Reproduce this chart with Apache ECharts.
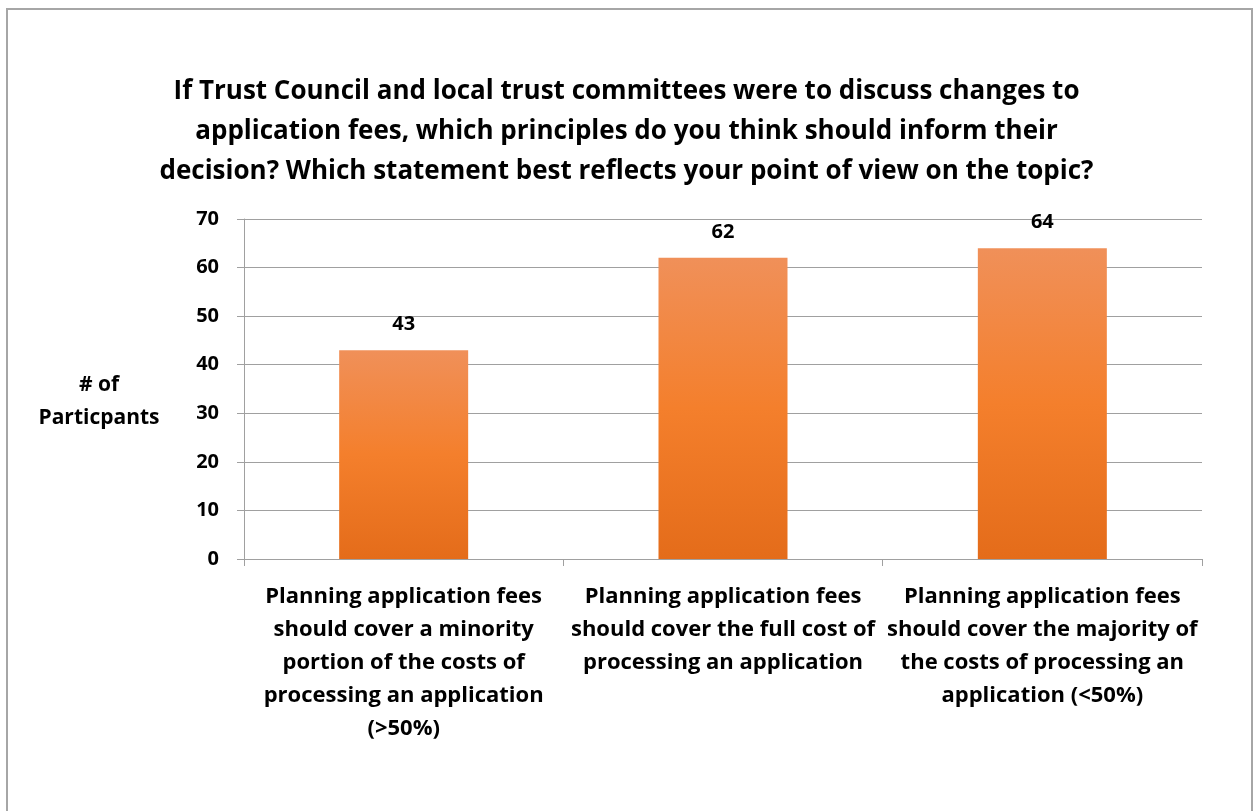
<!DOCTYPE html>
<html>
<head>
<meta charset="utf-8">
<style>
    html, body { margin: 0; padding: 0; background: #fff; }
    #chart { width: 1253px; height: 811px; }
</style>
<script src="https://cdn.jsdelivr.net/npm/echarts@6/dist/echarts.min.js"></script>
</head>
<body>
<div id="chart"></div>
<script>
var titleText = 'If Trust Council and local trust committees were to discuss changes to\napplication fees, which principles do you think should inform their\ndecision? Which statement best reflects your point of view on the topic?';
var yName = '# of\nParticpants';

var categories = [
    'Planning application fees\nshould cover a minority\nportion of the costs of\nprocessing an application\n(>50%)',
    'Planning application fees\nshould cover the full cost of\nprocessing an application',
    'Planning application fees\nshould cover the majority of\nthe costs of processing an\napplication (<50%)'
];
var participants = [43, 62, 64];
var yTicks = [0, 10, 20, 30, 40, 50, 60, 70];

var fontFamily = '"Open Sans", Lato, sans-serif';

var chart = echarts.init(document.getElementById('chart'));

var option = {
    backgroundColor: '#ffffff',
    animation: false,
    title: {
        text: titleText,
        left: 'center',
        top: 67,
        textStyle: {
            fontFamily: fontFamily,
            fontWeight: 'bold',
            fontSize: 26,
            lineHeight: 40,
            color: '#000'
        }
    },
    graphic: [{
        type: 'rect',
        shape: {x: 7, y: 9, width: 1245, height: 830},
        style: {fill: 'none', stroke: '#a6a6a6', lineWidth: 2},
        silent: true
    }, {
        // y axis title, sits a bit below the plot's middle as in the original
        type: 'text',
        x: 99,
        y: 402,
        style: {
            text: yName,
            fontFamily: fontFamily,
            fontWeight: 'bold',
            fontSize: 21,
            lineHeight: 33,
            fill: '#000',
            align: 'center',
            verticalAlign: 'middle'
        },
        silent: true
    }],
    grid: {
        left: 244,
        right: 51,
        top: 219,
        bottom: 252
    },
    xAxis: {
        type: 'category',
        data: categories,
        axisLine: {lineStyle: {color: '#a0a0a0', width: 1}},
        axisTick: {show: true, length: 7, lineStyle: {color: '#a0a0a0'}},
        axisLabel: {
            interval: 0,
            margin: 21,
            fontFamily: fontFamily,
            fontWeight: 'bold',
            fontSize: 22,
            lineHeight: 33,
            color: '#000'
        }
    },
    yAxis: {
        type: 'value',
        min: yTicks[0],
        max: yTicks[yTicks.length - 1],
        interval: 10,
        axisLine: {show: true, lineStyle: {color: '#a0a0a0', width: 1}},
        axisTick: {show: true, length: 7, lineStyle: {color: '#a0a0a0'}},
        splitLine: {lineStyle: {color: '#a0a0a0', width: 1}},
        axisLabel: {
            margin: 25,
            fontFamily: fontFamily,
            fontWeight: 'bold',
            fontSize: 20,
            color: '#000'
        }
    },
    series: [{
        type: 'bar',
        data: participants,
        barWidth: 129,
        itemStyle: {
            color: new echarts.graphic.LinearGradient(0, 0, 0, 1, [
                {offset: 0, color: '#f09059'},
                {offset: 0.5, color: '#f47f2c'},
                {offset: 1, color: '#e46c1a'}
            ])
        },
        label: {
            show: true,
            position: 'top',
            distance: 16,
            fontFamily: fontFamily,
            fontWeight: 'bold',
            fontSize: 20,
            color: '#000'
        }
    }]
};

chart.setOption(option);
</script>
</body>
</html>
